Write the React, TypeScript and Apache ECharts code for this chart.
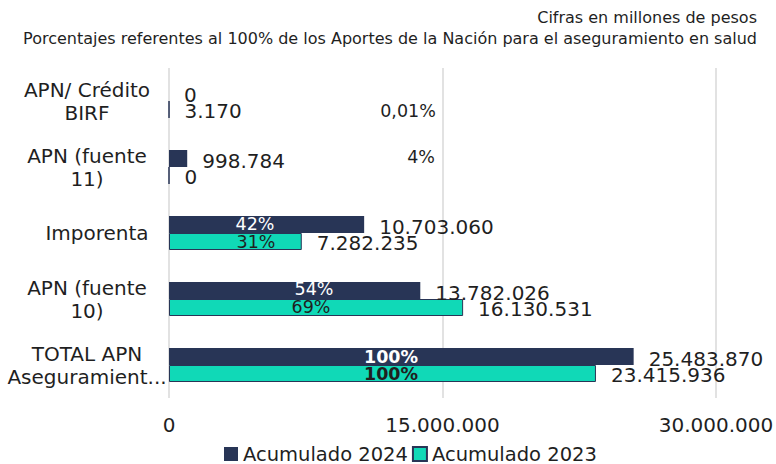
import React, { useEffect, useRef } from "react";
import * as echarts from "echarts";

const categories = [
  "APN/ Crédito\nBIRF",
  "APN (fuente\n11)",
  "Imporenta",
  "APN (fuente\n10)",
  "TOTAL APN\nAseguramient...",
];
const values2024 = [0, 998784, 10703060, 13782026, 25483870];
const values2023 = [3170, 0, 7282235, 16130531, 23415936];
const pct2024 = ["", "4%", "42%", "54%", "100%"];
const pct2023 = ["0,01%", "", "31%", "69%", "100%"];
const seriesNames = ["Acumulado 2024", "Acumulado 2023"];
const titleLines = [
  "Cifras en millones de pesos",
  "Porcentajes referentes al 100% de los Aportes de la Nación para el aseguramiento en salud",
];
const xMin = 0;
const xMax = 30000000;
const xInterval = 15000000;

const FONT = "DejaVu Sans";
const TEXT = "#1f1f1f";
const NAVY = "#283556";
const TEAL = "#10d9b7";

const fmt = (v: number) => String(Math.round(v)).replace(/\B(?=(\d{3})+(?!\d))/g, ".");

export default function App() {
  const ref = useRef<HTMLDivElement>(null);
  useEffect(() => {
    if (!ref.current) return;
    const chart = echarts.init(ref.current, null, { renderer: "svg" });

    // pixel anchors for the percentage annotations (per category)
    const pctPos2024: ([number, number] | null)[] = [null, [421, 157], [255, 224], [314, 289], [391, 357]];
    const pctPos2023: ([number, number] | null)[] = [[408, 111], null, [256, 242], [311, 307], [391, 374]];
    const graphic: any[] = [
      {
        type: "text",
        x: 757,
        y: 7,
        z: 100,
        style: {
          text: titleLines.join("\n"),
          fontFamily: FONT,
          fontSize: 16,
          lineHeight: 21,
          fill: TEXT,
          align: "right",
          verticalAlign: "top",
        },
      },
    ];
    pct2024.forEach((t, i) => {
      const p = pctPos2024[i];
      if (!t || !p) return;
      const small = i < 2;
      graphic.push({
        type: "text",
        x: p[0],
        y: p[1],
        z: 100,
        style: {
          text: t,
          fontFamily: FONT,
          fontSize: 17.5,
          fontWeight: i === 4 ? "bold" : "normal",
          fill: small ? TEXT : "#ffffff",
          align: "center",
          verticalAlign: "middle",
        },
      });
    });
    pct2023.forEach((t, i) => {
      const p = pctPos2023[i];
      if (!t || !p) return;
      graphic.push({
        type: "text",
        x: p[0],
        y: p[1],
        z: 100,
        style: {
          text: t,
          fontFamily: FONT,
          fontSize: 17.5,
          fontWeight: i === 4 ? "bold" : "normal",
          fill: TEXT,
          align: "center",
          verticalAlign: "middle",
        },
      });
    });

    const yData = categories.map((c) =>
      c === "Imporenta"
        ? { value: c, textStyle: { align: "center", padding: [0, 0, 0, 20] } }
        : c
    );

    chart.setOption({
      animation: false,
      textStyle: { fontFamily: FONT },
      legend: {
        data: seriesNames,
        left: 219,
        top: 439,
        icon: "rect",
        itemWidth: 14,
        itemHeight: 14,
        itemGap: 4,
        textStyle: { fontFamily: FONT, fontSize: 19.5, color: TEXT },
      },
      grid: { left: 169, right: 60, top: 68, bottom: 66, containLabel: false, outerBoundsMode: "none" },
      xAxis: {
        type: "value",
        min: xMin,
        max: xMax,
        interval: xInterval,
        axisLine: { show: false },
        axisTick: { show: false },
        splitLine: { show: true, lineStyle: { color: "#d9d9d9", width: 1.5 } },
        axisLabel: { formatter: (v: number) => fmt(v), fontFamily: FONT, fontSize: 20, color: TEXT, margin: 17 },
      },
      yAxis: {
        type: "category",
        inverse: true,
        data: yData,
        axisLine: { show: false },
        axisTick: { show: false },
        axisLabel: {
          margin: 82,
          align: "center",
          fontFamily: FONT,
          fontSize: 20,
          lineHeight: 23,
          color: TEXT,
        },
      },
      series: [
        {
          name: seriesNames[0],
          type: "bar",
          data: values2024,
          barWidth: 17,
          barGap: "0%",
          itemStyle: { color: NAVY },
          label: {
            show: true,
            position: "right",
            distance: 15,
            offset: [0, 2],
            formatter: (p: any) => fmt(p.value),
            fontFamily: FONT,
            fontSize: 20,
            color: TEXT,
          },
        },
        {
          name: seriesNames[1],
          type: "bar",
          data: values2023,
          barWidth: 17,
          barGap: "0%",
          itemStyle: { color: TEAL, borderColor: NAVY, borderWidth: 1 },
          label: {
            show: true,
            position: "right",
            distance: 15,
            offset: [0, 1],
            formatter: (p: any) => fmt(p.value),
            fontFamily: FONT,
            fontSize: 20,
            color: TEXT,
          },
        },
      ],
      graphic,
    });
    return () => chart.dispose();
  }, []);
  return <div ref={ref} style={{ width: 776, height: 464, position: "absolute", left: 0, top: 0 }} />;
}
